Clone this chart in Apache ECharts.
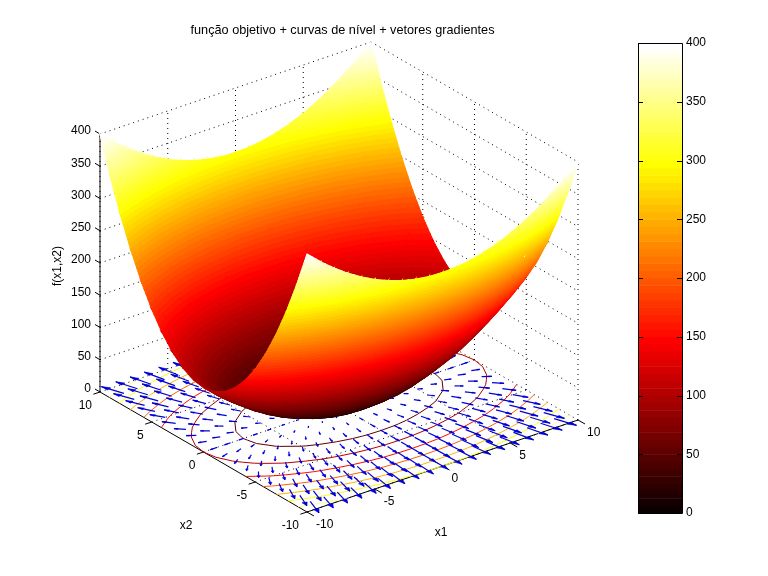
<!DOCTYPE html>
<html><head><meta charset="utf-8">
<script src="https://cdn.jsdelivr.net/npm/echarts@6/dist/echarts.min.js"></script>
<style>html,body{margin:0;background:#fff}#c{width:768px;height:576px}</style></head>
<body><div id="c"></div>
<script>
const x1Values=[-10,-9,-8,-7,-6,-5,-4,-3,-2,-1,0,1,2,3,4,5,6,7,8,9,10];
const x2Values=[-10,-9,-8,-7,-6,-5,-4,-3,-2,-1,0,1,2,3,4,5,6,7,8,9,10];
const fValues=[
[400,381,364,349,336,325,316,309,304,301,300,301,304,309,316,325,336,349,364,381,400],
[343,324,307,292,279,268,259,252,247,244,243,244,247,252,259,268,279,292,307,324,343],
[292,273,256,241,228,217,208,201,196,193,192,193,196,201,208,217,228,241,256,273,292],
[247,228,211,196,183,172,163,156,151,148,147,148,151,156,163,172,183,196,211,228,247],
[208,189,172,157,144,133,124,117,112,109,108,109,112,117,124,133,144,157,172,189,208],
[175,156,139,124,111,100,91,84,79,76,75,76,79,84,91,100,111,124,139,156,175],
[148,129,112,97,84,73,64,57,52,49,48,49,52,57,64,73,84,97,112,129,148],
[127,108,91,76,63,52,43,36,31,28,27,28,31,36,43,52,63,76,91,108,127],
[112,93,76,61,48,37,28,21,16,13,12,13,16,21,28,37,48,61,76,93,112],
[103,84,67,52,39,28,19,12,7,4,3,4,7,12,19,28,39,52,67,84,103],
[100,81,64,49,36,25,16,9,4,1,0,1,4,9,16,25,36,49,64,81,100],
[103,84,67,52,39,28,19,12,7,4,3,4,7,12,19,28,39,52,67,84,103],
[112,93,76,61,48,37,28,21,16,13,12,13,16,21,28,37,48,61,76,93,112],
[127,108,91,76,63,52,43,36,31,28,27,28,31,36,43,52,63,76,91,108,127],
[148,129,112,97,84,73,64,57,52,49,48,49,52,57,64,73,84,97,112,129,148],
[175,156,139,124,111,100,91,84,79,76,75,76,79,84,91,100,111,124,139,156,175],
[208,189,172,157,144,133,124,117,112,109,108,109,112,117,124,133,144,157,172,189,208],
[247,228,211,196,183,172,163,156,151,148,147,148,151,156,163,172,183,196,211,228,247],
[292,273,256,241,228,217,208,201,196,193,192,193,196,201,208,217,228,241,256,273,292],
[343,324,307,292,279,268,259,252,247,244,243,244,247,252,259,268,279,292,307,324,343],
[400,381,364,349,336,325,316,309,304,301,300,301,304,309,316,325,336,349,364,381,400]
];
const contourLevels=[50,100,150,200,250,300,350];
const x1Ticks=[-10,-5,0,5,10];
const x2Ticks=[-10,-5,0,5,10];
const zTicks=[0,50,100,150,200,250,300,350,400];
const titleText='função objetivo + curvas de nível + vetores gradientes';

const FONT='"Liberation Sans",Arial,sans-serif';
const ZMAX=400, NC=64;
const P=(a,b,z)=>[339+13.55*a-10.35*b, 406-4.6*a-6*b-0.645*z];
function hot(k){
  const r=Math.min(1,(k+1)/24),g=Math.max(0,Math.min(1,(k+1-24)/24)),b=Math.max(0,(k+1-48)/16);
  return 'rgb('+Math.round(r*255)+','+Math.round(g*255)+','+Math.round(b*255)+')';
}
const idx=z=>Math.max(0,Math.min(NC-1,Math.floor(z/ZMAX*NC)));
function clip(poly,lev,keepAbove){
  const out=[];
  for(let i=0;i<poly.length;i++){
    const a=poly[i],b=poly[(i+1)%poly.length];
    const ina=keepAbove?a[2]>=lev:a[2]<=lev, inb=keepAbove?b[2]>=lev:b[2]<=lev;
    if(ina)out.push(a);
    if(ina!==inb){const t=(lev-a[2])/(b[2]-a[2]);out.push([a[0]+t*(b[0]-a[0]),a[1]+t*(b[1]-a[1]),lev]);}
  }
  return out;
}
function bands(tri,api,ch){
  const zs=tri.map(v=>v[2]);
  const k0=idx(Math.min(...zs)),k1=idx(Math.max(...zs));
  for(let k=k0;k<=k1;k++){
    let p=tri;
    if(k>k0)p=clip(p,k*ZMAX/NC,true);
    if(k<k1&&p.length)p=clip(p,(k+1)*ZMAX/NC,false);
    if(p.length<3)continue;
    const c=hot(k);
    ch.push({type:'polygon',shape:{points:p.map(v=>api.coord([v[0],v[1]]))},style:{fill:c,stroke:c,lineWidth:1.1},silent:true});
  }
}
const cells=[];
for(let j=x2Values.length-2;j>=0;j--)for(let i=x1Values.length-2;i>=0;i--)cells.push([i,j]);
const V=(i,j)=>{const p=P(x1Values[i],x2Values[j],fValues[j][i]);return [p[0],p[1],fValues[j][i]];};
function surfaceItem(params,api){
  const i=api.value(0),j=api.value(1),ch=[];
  const a=V(i,j),b=V(i+1,j),c=V(i+1,j+1),d=V(i,j+1);
  bands([b,c,d],api,ch);bands([a,b,d],api,ch);
  return {type:'group',children:ch,silent:true};
}
function contourSegs(){
  const segs=[];
  contourLevels.forEach(L=>{
    for(let j=0;j<x2Values.length-1;j++)for(let i=0;i<x1Values.length-1;i++){
      const cs=[[i,j],[i+1,j],[i+1,j+1],[i,j+1]],pts=[];
      for(let e=0;e<4;e++){
        const A=cs[e],B=cs[(e+1)%4],za=fValues[A[1]][A[0]],zb=fValues[B[1]][B[0]];
        if((za<L)!==(zb<L)){const t=(L-za)/(zb-za);
          pts.push([x1Values[A[0]]+t*(x1Values[B[0]]-x1Values[A[0]]),x2Values[A[1]]+t*(x2Values[B[1]]-x2Values[A[1]])]);}
      }
      if(pts.length>=2)segs.push([pts[0][0],pts[0][1],pts[1][0],pts[1][1],L]);
    }
  });
  return segs;
}
const QS=0.028;
function quiverData(){
  const out=[],n=x1Values.length;
  for(let j=1;j<n-1;j++)for(let i=1;i<n-1;i++){
    const u=(fValues[j][i+1]-fValues[j][i-1])/(x1Values[i+1]-x1Values[i-1]);
    const v=(fValues[j+1][i]-fValues[j-1][i])/(x2Values[j+1]-x2Values[j-1]);
    out.push([x1Values[i],x2Values[j],u,v]);
  }
  return out;
}
function quiverItem(params,api){
  const x=api.value(0),y=api.value(1),u=api.value(2)*QS,v=api.value(3)*QS;
  const al=.33,be=.33,tip=[x+u,y+v];
  const L=(a,b)=>api.coord(P(a,b,0));
  const h1=[tip[0]-al*(u+be*v),tip[1]-al*(v-be*u)],h2=[tip[0]-al*(u-be*v),tip[1]-al*(v+be*u)];
  const st={stroke:'#0000d8',lineWidth:1.2,fill:null};
  return {type:'group',silent:true,children:[
    {type:'polyline',shape:{points:[L(x,y),L(tip[0],tip[1])]},style:st},
    {type:'polygon',shape:{points:[L(h1[0],h1[1]),L(tip[0],tip[1]),L(h2[0],h2[1])]},style:{fill:'#0000d8',stroke:'#0000d8',lineWidth:.6}}
  ]};
}
function seg(api,a,b,dotted,w){
  const A=api.coord(a),B=api.coord(b);
  return {type:'line',shape:{x1:A[0],y1:A[1],x2:B[0],y2:B[1]},
    style:{stroke:'#000',lineWidth:w||1,lineDash:dotted?[1,4]:null},silent:true};
}
function txt(api,p,s,align,va,rot){
  const c=api.coord(p);
  return {type:'text',x:c[0],y:c[1],rotation:rot||0,silent:true,style:{text:s,font:'12px '+FONT,fill:'#000',align:align,verticalAlign:va}};
}
function frameItem(params,api){
  const ch=[],lo=-10,hi=10;
  zTicks.forEach(z=>{ if(z>0){
    ch.push(seg(api,P(lo,hi,z),P(hi,hi,z),1),seg(api,P(hi,hi,z),P(hi,lo,z),1));}});
  x1Ticks.forEach(a=>{
    ch.push(seg(api,P(a,hi,0),P(a,hi,ZMAX),1));
    if(a>lo) ch.push(seg(api,P(a,lo,0),P(a,hi,0),1));
  });
  x2Ticks.forEach(b=>{
    ch.push(seg(api,P(hi,b,0),P(hi,b,ZMAX),1));
    ch.push(seg(api,P(lo,b,0),P(hi,b,0),1));
  });
  ch.push(seg(api,P(lo,hi,0),P(lo,hi,ZMAX)),seg(api,P(lo,lo,0),P(hi,lo,0)),seg(api,P(lo,lo,0),P(lo,hi,0)));
  zTicks.forEach(z=>{const p=P(lo,hi,z);
    ch.push(seg(api,p,[p[0]-5,p[1]-3]));
    ch.push(txt(api,[p[0]-9,p[1]-3],String(z),'right','middle'));});
  x1Ticks.forEach(a=>{const p=P(a,lo,0);
    ch.push(seg(api,p,[p[0]+7,p[1]+4]));
    ch.push(txt(api,[p[0]+9,p[1]+13],String(a),'left','middle'));});
  x2Ticks.forEach(b=>{const p=P(lo,b,0);
    ch.push(seg(api,p,[p[0]-6.6,p[1]+2.2]));
    ch.push(txt(api,[p[0]-8,p[1]+14],String(b),'right','middle'));});
  ch.push(txt(api,[441,533],'x1','center','middle'));
  ch.push(txt(api,[186,526],'x2','center','middle'));
  ch.push(txt(api,[58,266],'f(x1,x2)','center','middle',Math.PI/2));
  return {type:'group',children:ch,silent:true};
}
const barLevels=[];for(let k=0;k<NC;k++)barLevels.push(k);
const chart=echarts.init(document.getElementById('c'),null,{renderer:'canvas'});
chart.setOption({
  animation:false,backgroundColor:'#fff',
  title:{text:titleText,left:337.5,top:19,textAlign:'center',textStyle:{fontFamily:'Liberation Sans',fontSize:12.7,fontWeight:'normal',color:'#000'}},
  grid:[{left:0,top:0,width:768,height:576},{left:638,top:43,width:44,height:470}],
  xAxis:[{gridIndex:0,type:'value',min:0,max:768,show:false},{gridIndex:1,type:'value',min:0,max:1,show:false}],
  yAxis:[{gridIndex:0,type:'value',min:0,max:576,inverse:true,show:false},
    {gridIndex:1,type:'value',min:0,max:400,interval:50,position:'right',splitLine:{show:false},
      axisLine:{show:false},axisTick:{show:false},
      axisLabel:{margin:4,fontFamily:'Liberation Sans',fontSize:12,color:'#000'}}],
  series:[
    {type:'custom',name:'frame',xAxisIndex:0,yAxisIndex:0,data:[[0]],renderItem:frameItem,silent:true,clip:false,z:1},
    {type:'custom',name:'contour',xAxisIndex:0,yAxisIndex:0,data:contourSegs(),silent:true,clip:false,z:2,progressive:0,
      renderItem(p,api){
        const a=api.coord(P(api.value(0),api.value(1),0)),b=api.coord(P(api.value(2),api.value(3),0));
        return {type:'line',shape:{x1:a[0],y1:a[1],x2:b[0],y2:b[1]},style:{stroke:hot(idx(api.value(4))),lineWidth:1},silent:true};
      }},
    {type:'custom',name:'quiver',xAxisIndex:0,yAxisIndex:0,data:quiverData(),renderItem:quiverItem,silent:true,clip:false,z:3,progressive:0},
    {type:'custom',name:'surface',xAxisIndex:0,yAxisIndex:0,data:cells,renderItem:surfaceItem,silent:true,clip:false,z:4,progressive:0},
    {type:'custom',name:'colorbar',xAxisIndex:1,yAxisIndex:1,data:barLevels,silent:true,z:5,progressive:0,clip:false,
      encode:{y:0},
      renderItem(p,api){
        const k=api.value(0),a=api.coord([0,k*ZMAX/NC]),b=api.coord([1,(k+1)*ZMAX/NC]);
        return {type:'rect',shape:{x:a[0],y:b[1],width:b[0]-a[0],height:a[1]-b[1]+0.5},style:{fill:hot(k)},silent:true};
      }},
    {type:'custom',name:'colorbarTicks',xAxisIndex:1,yAxisIndex:1,data:zTicks,silent:true,z:6,clip:false,encode:{y:0},
      renderItem(p,api){
        const v=api.value(0),a=api.coord([0,v]),b=api.coord([1,v]),st={stroke:'#000',lineWidth:1};
        const y=Math.round(a[1])+0.5;
        const ch=[{type:'line',shape:{x1:a[0],y1:y,x2:a[0]+5,y2:y},style:st},{type:'line',shape:{x1:b[0]-5,y1:y,x2:b[0],y2:y},style:st}];
        if(p.dataIndex===0){
          const t=api.coord([0,ZMAX]);
          ch.push({type:'rect',shape:{x:a[0]+.5,y:t[1]+.5,width:b[0]-a[0],height:a[1]-t[1]},style:{fill:null,stroke:'#000',lineWidth:1}});
        }
        return {type:'group',children:ch,silent:true};
      }}
  ]
});
</script></body></html>
